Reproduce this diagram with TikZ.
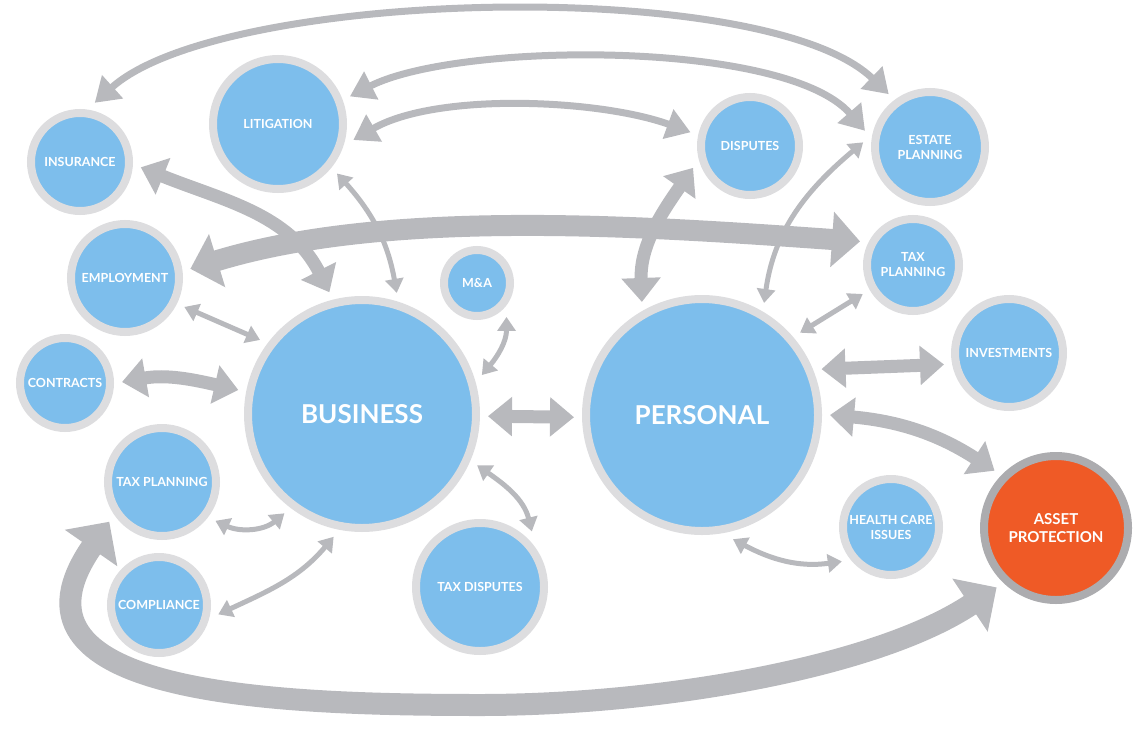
\documentclass[tikz,border=0pt]{standalone}
\usepackage{fontspec}
\setmainfont{Lato}
\usetikzlibrary{arrows.meta}
\definecolor{bubbleblue}{RGB}{125,190,236}
\definecolor{ringgray}{RGB}{221,221,223}
\definecolor{arrowgray}{RGB}{184,185,189}
\definecolor{assetred}{RGB}{239,90,38}
\definecolor{assetring}{RGB}{172,172,175}

\begin{document}
\begin{tikzpicture}[x=1pt, y=1pt,
    bubble/.style={circle, draw=ringgray, line width=8pt, fill=bubbleblue, text=white,
        font=\fontsize{12.5}{15}\selectfont\bfseries, align=center, inner sep=0pt,
        outer sep=12pt, minimum size=#1},
    hub/.style={bubble=#1, font=\fontsize{26}{30}\selectfont\bfseries},
    link/.style={draw=arrowgray, line width=5pt, {Triangle[length=14pt,width=18pt]}-{Triangle[length=14pt,width=18pt]}},
    arc link/.style={draw=arrowgray, line width=7pt, {Triangle[length=24pt,width=30pt]}-{Triangle[length=24pt,width=30pt]}},
    thick link/.style={draw=arrowgray, line width=13pt, {Triangle[length=24pt,width=38pt]}-{Triangle[length=24pt,width=38pt]}},
    wide link/.style={draw=arrowgray, line width=21pt, {Triangle[length=28pt,width=54pt]}-{Triangle[length=28pt,width=54pt]}},
    loop link/.style={draw=arrowgray, line width=22pt, {Triangle[length=32pt,width=62pt]}-{Triangle[length=32pt,width=62pt]}}]
    \useasboundingbox (0,0) rectangle (1134,-736);

    \node[bubble=98pt] (ins) at (80,-162) {INSURANCE};
    \node[bubble=130pt] (lit) at (278,-124) {LITIGATION};
    \node[bubble=108pt] (emp) at (125,-278) {EMPLOYMENT};
    \node[bubble=66pt] (ma) at (477,-283) {M\&A};
    \node[bubble=98pt] (dis) at (750,-146) {DISPUTES};
    \node[bubble=110pt] (est) at (930,-147) {ESTATE\\PLANNING};
    \node[bubble=92pt] (tpr) at (913,-265) {TAX\\PLANNING};
    \node[bubble=108pt] (inv) at (1009,-353) {INVESTMENTS};
    \node[bubble=90pt] (con) at (65,-383) {CONTRACTS};
    \node[bubble=108pt] (tpl) at (162,-482) {TAX PLANNING};
    \node[bubble=96pt] (com) at (159,-605) {COMPLIANCE};
    \node[hub=228pt] (bus) at (362,-414) {BUSINESS};
    \node[bubble=128pt] (tdi) at (480,-587) {TAX DISPUTES};
    \node[hub=232pt] (per) at (702,-415) {PERSONAL};
    \node[bubble=96pt] (hea) at (891,-527) {HEALTH CARE\\ISSUES};
    \node[bubble=144pt, draw=assetring, fill=assetred,
        font=\fontsize{15}{18}\selectfont\bfseries] (ass) at (1056,-528) {ASSET\\PROTECTION};

    \draw[arc link] (ins.76) to[out=42, in=136, looseness=0.55] (est.128);
    \draw[arc link] (lit.21) to[out=27, in=131, looseness=0.6] (est.166);
    \draw[arc link] (lit.-12) to[out=30, in=160, looseness=0.73] (dis.167);
    \draw[thick link] (ins.-5) to[out=-22, in=117] (bus.105);
    \draw[link] (lit.-40) to[out=-48, in=100] (bus.74);
    \draw[wide link] (emp.8) to[out=17, in=176, looseness=0.8] (tpr.156);
    \draw[thick link] (dis.201) to[out=235, in=92] (per.118);
    \draw[link] (est.176) to[out=220, in=82] (per.61);
    \draw[link] (emp.-26) -- (bus.144);
    \draw[link] (ma.-49) to[out=-90, in=50] (bus.18);
    \draw[thick link] (con.1) to[out=10, in=167] (bus.169);
    \draw[thick link] (bus.-1) -- (per.181);
    \draw[link] (tpr.210) -- (per.40);
    \draw[thick link] (per.21) -- (inv.190);
    \draw[thick link] (per.0) to[out=-5, in=147] (ass.137);
    \draw[link] (bus.-24) to[out=-35, in=104] (tdi.47);
    \draw[link] (tpl.-36) to[out=-25, in=-140] (bus.232);
    \draw[link] (com.-9) to[out=25, in=-130] (bus.257);
    \draw[link] (per.-76) to[out=-28, in=188] (hea.215);
    \coordinate (bot) at (480,-705);
    \draw[loop link] (tpl.217) .. controls +(-118,-170) and +(-220,0) .. (bot)
        .. controls +(180,0) and +(-120,-80) .. (ass.225);
\end{tikzpicture}
\end{document}
